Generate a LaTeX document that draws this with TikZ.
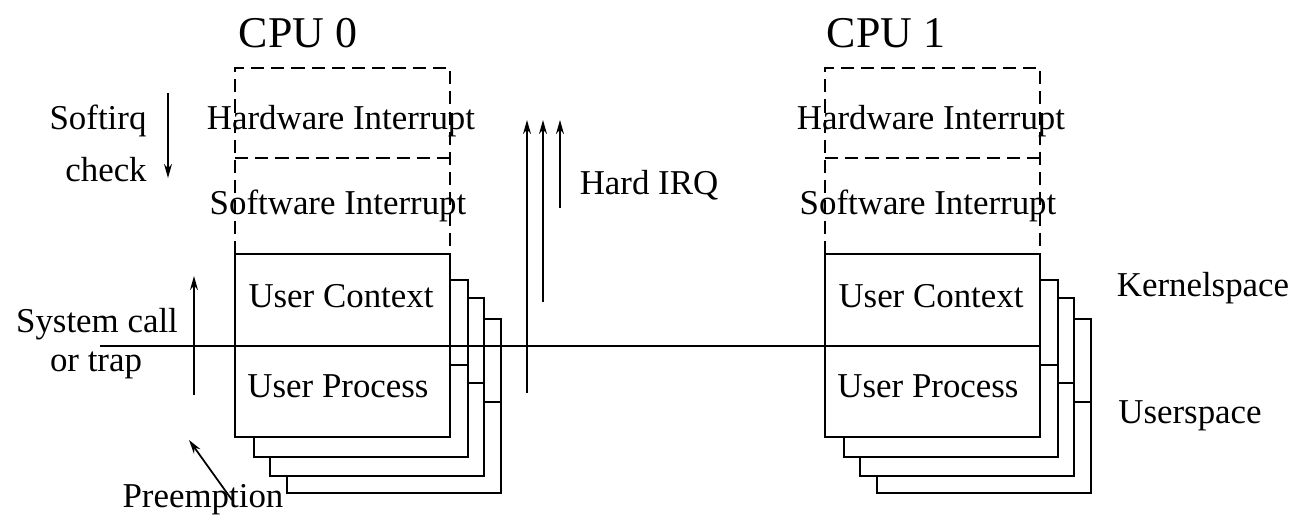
\documentclass[tikz,border=0pt]{standalone}
\usepackage{fontspec}
\setmainfont{Liberation Serif}
\usetikzlibrary{arrows.meta}
\begin{document}
\begin{tikzpicture}[x=0.02cm,y=-0.02cm,line width=1.1pt,
  lbl/.style={font=\fontsize{19.85}{22}\selectfont,inner sep=0pt,anchor=base},
  cpulbl/.style={font=\fontsize{25}{28}\selectfont,inner sep=0pt,anchor=base west},
  dsh/.style={dash pattern=on 7.5pt off 4pt},
  stackbox/.style={draw,fill=white},
  arr/.style={-{Stealth[length=8pt,width=4.5pt]},line width=1pt}]
\useasboundingbox (0,0) rectangle (1295,519);

\foreach \i/\ox in {0/0,1/590}{
\begin{scope}[shift={(\ox,0)}]
  % stacked boxes, back to front
  \draw[stackbox] (287,319) rectangle (501,493);
  \draw (287,402) -- (501,402);
  \draw[stackbox] (270,298) rectangle (484,476);
  \draw (270,383) -- (484,383);
  \draw[stackbox] (254,280) rectangle (468,457);
  \draw (254,365) -- (468,365);
  \draw[stackbox] (235,254) rectangle (450,437);
  % dashed interrupt levels
  \draw[dsh] (235,254) -- (235,68) -- (450,68) -- (450,254);
  \draw[dsh] (235,158) -- (450,158);
  % texts
  \node[lbl] (hw\i) at (341,130) {Hardware Interrupt};
  \node[lbl] (sw\i) at (338,215) {Software Interrupt};
  \node[lbl] (uc\i) at (341,308) {User Context};
  \node[lbl] (up\i) at (338,398) {User Process};
\end{scope}
}

\node[cpulbl] (cpu0) at (238,48) {CPU 0};
\node[cpulbl] (cpu1) at (826,48) {CPU 1};

% kernel/user divider
\coordinate (lineL) at (100,346);
\coordinate (lineR) at (1039,346);
\draw (lineL) -- (lineR);

% side labels
\node[lbl] (kspace) at (1203,297) {Kernelspace};
\node[lbl] (uspace) at (1190,424) {Userspace};

% softirq check
\node[lbl] (softirq) at (98,130) {Softirq};
\node[lbl] (check) at (106,182) {check};
\coordinate (scA) at (168,93);
\coordinate (scB) at (168,178);
\draw[arr] (scA) -- (scB);

% system call
\node[lbl] (sys) at (97,333) {System call};
\node[lbl] (trap) at (96,372) {or trap};
\coordinate (syA) at (194,395);
\coordinate (syB) at (194,276);
\draw[arr] (syA) -- (syB);

% hard irq
\node[lbl] (hirq) at (649,195) {Hard IRQ};
\coordinate (h1a) at (527,393);
\coordinate (h1b) at (527,120);
\coordinate (h2a) at (543,302);
\coordinate (h2b) at (543,120);
\coordinate (h3a) at (560,208);
\coordinate (h3b) at (560,120);
\draw[arr] (h1a) -- (h1b);
\draw[arr] (h2a) -- (h2b);
\draw[arr] (h3a) -- (h3b);

% preemption
\node[lbl] (pre) at (203,508) {Preemption};
\coordinate (prA) at (232,500);
\coordinate (prB) at (189,440);
\draw[arr] (prA) -- (prB);
\end{tikzpicture}
\end{document}
